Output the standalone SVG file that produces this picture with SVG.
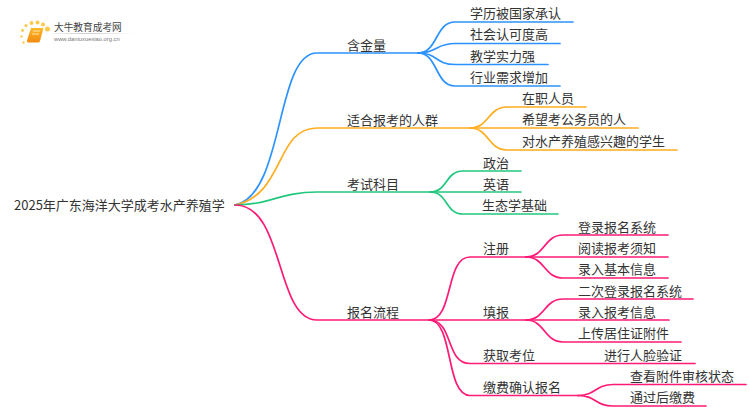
<svg xmlns="http://www.w3.org/2000/svg" width="750" height="410" viewBox="0 0 750 410">
<style>
text{font-family:"Noto Sans CJK SC","Noto Sans",sans-serif;font-size:13px;fill:#333}
.c path{fill:none;stroke-width:1.7;stroke-linecap:round}
.b path{stroke:#2c92ff}.o path{stroke:#ffad1f}.g path{stroke:#22c77d}.p path{stroke:#ff1a75}
</style>
<defs><linearGradient id="fade"><stop offset="0" stop-color="#ccc" stop-opacity="0.2"/><stop offset="0.4" stop-color="#ccc"/><stop offset="1" stop-color="#ccc" stop-opacity="0"/></linearGradient>
<linearGradient id="bk" x1="0" y1="0" x2="0" y2="1"><stop offset="0" stop-color="#fdb92c"/><stop offset="1" stop-color="#f08a10"/></linearGradient></defs>
<rect width="750" height="410" fill="#fff"/>
<g id="connectors" class="c">
<g class="b">
<path d="M235 205C285 195 275 53 317 53H418"/>
<path d="M418 53C438 53 435 22 455 22H573"/>
<path d="M418 53C438 53 435 43.500 455 43.500H560"/>
<path d="M418 53C438 53 435 64.500 455 64.500H548"/>
<path d="M418 53C438 53 435 86 455 86H560"/>
</g>
<g class="o">
<path d="M235 205C285 195 275 128 317 128H470"/>
<path d="M470 128C489 128 488 107 507 107H586"/>
<path d="M470 128H638"/>
<path d="M470 128C489 128 488 150 507 150H677"/>
</g>
<g class="g">
<path d="M235 205C270 205 280 192 317 192H430"/>
<path d="M430 192C448 192 445 171 463 171H521"/>
<path d="M430 192H521"/>
<path d="M430 192C448 192 445 214 463 214H558"/>
</g>
<g class="p">
<path d="M235 205C285 205 275 320 317 320H429"/>
<path d="M429 320C454 320 445 257 470 257H526"/>
<path d="M429 320H526"/>
<path d="M429 320C454 320 445 363.500 470 363.500H695"/>
<path d="M429 320C454 320 445 395.500 470 395.500H578"/>
<path d="M526 257C545 257 544 235 563 235H668"/>
<path d="M526 257H668"/>
<path d="M526 257C545 257 544 278 563 278H668"/>
<path d="M526 320C545 320 544 299 563 299H693"/>
<path d="M526 320H669"/>
<path d="M526 320C545 320 544 342 563 342H681"/>
<path d="M578 395.500C596 395.500 595 384.500 613 384.500H746"/>
<path d="M578 395.500C596 395.500 595 406 613 406H706"/>
</g>
</g>
<g id="root"><text x="14" y="210">2025年广东海洋大学成考水产养殖学</text></g>
<g id="n1"><text x="347" y="50">含金量</text></g>
<g id="n1a"><text x="470" y="18">学历被国家承认</text></g>
<g id="n1b"><text x="470" y="39">社会认可度高</text></g>
<g id="n1c"><text x="470" y="61">教学实力强</text></g>
<g id="n1d"><text x="470" y="82">行业需求增加</text></g>
<g id="n2"><text x="347" y="125">适合报考的人群</text></g>
<g id="n2a"><text x="522" y="103">在职人员</text></g>
<g id="n2b"><text x="522" y="124">希望考公务员的人</text></g>
<g id="n2c"><text x="522" y="146">对水产养殖感兴趣的学生</text></g>
<g id="n3"><text x="347" y="189">考试科目</text></g>
<g id="n3a"><text x="483" y="168">政治</text></g>
<g id="n3b"><text x="483" y="189">英语</text></g>
<g id="n3c"><text x="482" y="210">生态学基础</text></g>
<g id="n4"><text x="347" y="317">报名流程</text></g>
<g id="n4a"><text x="483" y="253">注册</text></g>
<g id="n4a1"><text x="578" y="232">登录报名系统</text></g>
<g id="n4a2"><text x="578" y="253">阅读报考须知</text></g>
<g id="n4a3"><text x="578" y="274">录入基本信息</text></g>
<g id="n4b"><text x="483" y="317">填报</text></g>
<g id="n4b1"><text x="578" y="296">二次登录报名系统</text></g>
<g id="n4b2"><text x="578" y="317">录入报考信息</text></g>
<g id="n4b3"><text x="578" y="338">上传居住证附件</text></g>
<g id="n4c"><text x="483" y="360">获取考位</text></g>
<g id="n4c1"><text x="604" y="360">进行人脸验证</text></g>
<g id="n4d"><text x="483" y="392">缴费确认报名</text></g>
<g id="n4d1"><text x="630" y="381">查看附件审核状态</text></g>
<g id="n4d2"><text x="630" y="402">通过后缴费</text></g>
<g id="logo">
<g fill="#fcc94a"><circle cx="47.500" cy="29" r="2.500"/><circle cx="43" cy="24.500" r="2"/><circle cx="37.500" cy="22.500" r="2"/><circle cx="31.500" cy="23" r="1.900"/><circle cx="26" cy="25.500" r="1.600"/><circle cx="22.500" cy="30.500" r="1.400"/><circle cx="21.500" cy="36.500" r="1.200"/><circle cx="23.500" cy="42.500" r="1.200"/></g>
<path d="M31 28H43Q43.500 28 43 30L40 41Q39.500 42.500 38 42.500H29Q26.500 42.500 27 40.500Z" fill="url(#bk)"/>
<path d="M33 31H40M32 34H39" stroke="#fff2c8" stroke-width="0.800"/>
<text x="54" y="31" style="font-size:9.700px;fill:#444">大牛教育成考网</text>
<rect x="52" y="33" width="82" height="1" fill="url(#fade)"/>
<text x="54" y="41" style="font-size:5.800px;fill:#777;font-family:'Liberation Sans',sans-serif">www.daniuxuexiao.org.cn</text>
</g>
</svg>
